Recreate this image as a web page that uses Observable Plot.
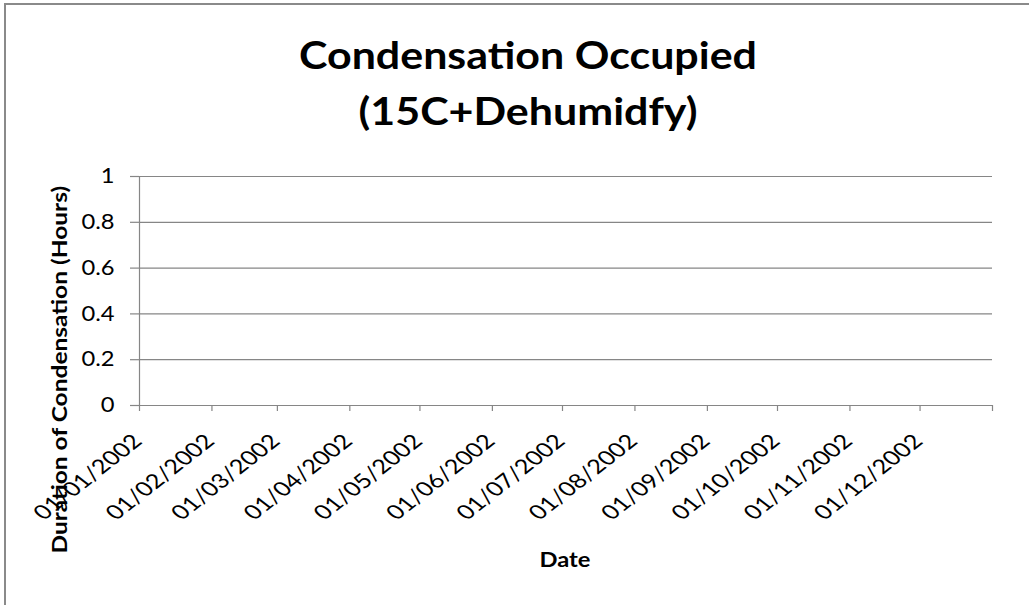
<!DOCTYPE html>
<html>
<head>
<meta charset="utf-8">
<script src="https://cdn.jsdelivr.net/npm/d3@7"></script>
<script src="https://cdn.jsdelivr.net/npm/@observablehq/plot@0.6"></script>
<style>
  html, body { margin: 0; padding: 0; background: #fff; }
  #wrap { position: relative; width: 1029px; height: 605px; overflow: hidden; font-family: Lato, "Open Sans", sans-serif; background: #fff; }
  #wrap svg { position: absolute; left: 0; top: 0; }
  .frame { position: absolute; left: 4px; top: 3px; width: 1100px; height: 700px; border-top: 2px solid #8a8a8a; border-left: 2px solid #8a8a8a; box-sizing: border-box; }
  .title { position: absolute; left: 28px; top: 26px; width: 1000px; text-align: center; font-weight: 700; font-size: 38px; line-height: 56px; color: #000; white-space: nowrap; transform: scaleX(1.13); transform-origin: 50% 50%; }
  .xtitle { position: absolute; left: 465px; top: 546px; width: 200px; text-align: center; font-weight: 700; font-size: 21px; line-height: 25.2px; color: #000; white-space: nowrap; transform: scaleX(1.13); transform-origin: 50% 50%; }
  .ytitle { position: absolute; left: -141.3px; top: 355.3px; width: 400px; height: 29.4px; text-align: center; font-weight: 700; font-size: 24.5px; line-height: 29.4px; color: #000; white-space: nowrap; transform: rotate(-90deg) scaleY(0.87); transform-origin: 50% 50%; }
</style>
</head>
<body>
<div id="wrap"></div>
<script>
// ---- chart content ----
const chartTitle = ["Condensation Occupied", "(15C+Dehumidfy)"];
const xTitle = "Date";
const yTitle = "Duration of Condensation (Hours)";
const dateLabels = ["01/01/2002", "01/02/2002", "01/03/2002", "01/04/2002", "01/05/2002", "01/06/2002",
                    "01/07/2002", "01/08/2002", "01/09/2002", "01/10/2002", "01/11/2002", "01/12/2002"];
const axisEndLabel = "01/01/2003";
const yTicks = [0, 0.2, 0.4, 0.6, 0.8, 1];
// The series is empty in the reference (no condensation recorded)
const seriesDates = [];
const seriesValues = [];

// ---- build ----
const parse = d3.utcParse("%d/%m/%Y");
const labelDates = dateLabels.map(parse);
const xTickDates = [...dateLabels, axisEndLabel].map(parse);
const data = seriesDates.map((d, i) => ({date: parse(d), value: seriesValues[i]}));
const gray = "#868686";

const plot = Plot.plot({
  width: 1029,
  height: 605,
  marginLeft: 139,
  marginRight: 37,
  marginTop: 176,
  marginBottom: 200,
  style: {fontFamily: "Lato, 'Open Sans', sans-serif", background: "transparent", color: "#000", overflow: "visible"},
  x: {type: "utc", domain: [xTickDates[0], xTickDates[xTickDates.length - 1]]},
  y: {domain: [0, 1]},
  marks: [
    Plot.ruleY(yTicks.filter(d => d > 0), {stroke: gray, strokeWidth: 1.2}),
    Plot.ruleY([0], {stroke: gray, strokeWidth: 1.2}),
    Plot.ruleX([xTickDates[0]], {stroke: gray, strokeWidth: 1.2}),
    Plot.axisY({ticks: yTicks, tickSize: 9, tickPadding: 16, fontSize: 21, stroke: gray, strokeWidth: 1.2, fill: "#000", label: null,
                tickFormat: d => String(+d.toFixed(1))}),
    Plot.axisX({ticks: xTickDates, tickSize: 6, tickFormat: () => "", stroke: gray, strokeWidth: 1.2, label: null}),
    Plot.text(labelDates, {x: d => d, frameAnchor: "bottom", text: (d, i) => dateLabels[i],
                           rotate: -45, textAnchor: "end", lineAnchor: "bottom",
                           dx: 4, dy: 37, fontSize: 20, fill: "#000"}),
    Plot.line(data, {x: "date", y: "value", stroke: "#4f81bd", strokeWidth: 2})
  ]
});

// widen the glyphs a little to match the reference's proportions
d3.select(plot).selectAll('g[aria-label="y-axis tick label"] text').each(function() {
  const t = this.getAttribute("transform");
  if (t && t.includes("translate")) this.setAttribute("transform", t + " scale(1.13,1)");
});
d3.select(plot).selectAll('g[aria-label="text"] text').each(function() {
  const t = this.getAttribute("transform") || "";
  this.setAttribute("transform", t.replace(/rotate\(([^)]+)\)/, "scale(1.27,1) rotate($1)"));
});

const wrap = document.getElementById("wrap");
const frame = document.createElement("div");
frame.className = "frame";
wrap.appendChild(frame);
wrap.appendChild(plot);

const t = document.createElement("div");
t.className = "title";
t.innerHTML = chartTitle.map(s => s.replace(/&/g, "&amp;").replace(/</g, "&lt;")).join("<br>");
wrap.appendChild(t);

const xt = document.createElement("div");
xt.className = "xtitle";
xt.textContent = xTitle;
wrap.appendChild(xt);

const yt = document.createElement("div");
yt.className = "ytitle";
yt.textContent = yTitle;
wrap.appendChild(yt);
</script>
</body>
</html>
